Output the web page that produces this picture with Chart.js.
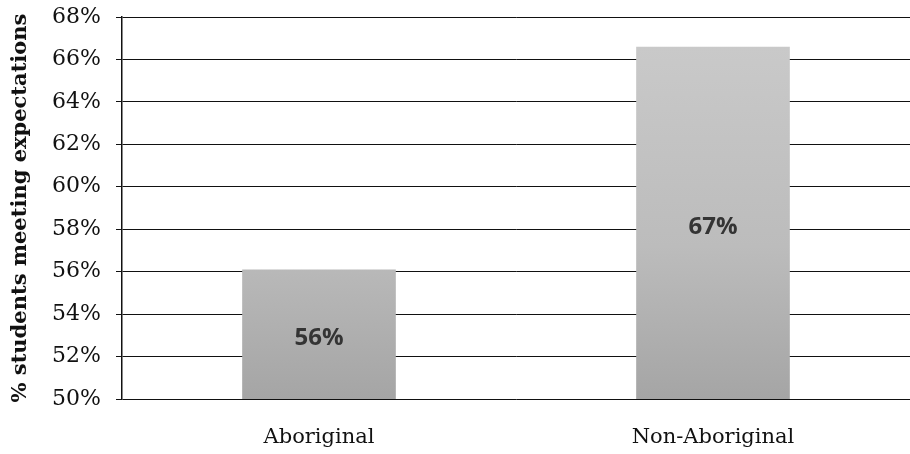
<!DOCTYPE html>
<html>
<head>
<meta charset="utf-8">
<script src="https://cdn.jsdelivr.net/npm/chart.js@4/dist/chart.umd.min.js"></script>
<style>
  html, body { margin: 0; padding: 0; background: #ffffff; }
  #wrap { width: 910px; height: 454px; position: relative; }
</style>
</head>
<body>
<div id="wrap"><canvas id="c" width="910" height="454"></canvas></div>
<script>
// Share of students meeting expectations, by group
const categories = ['Aboriginal', 'Non-Aboriginal'];
const percentMeeting = [56.1, 66.6];
const yTickMin = 50;
const yTickMax = 68;
const yTickStep = 2;
const yTitle = '% students meeting expectations';

// Gray bar fill, darker toward the base
function barFill(ctx) {
  const chart = ctx.chart;
  const area = chart.chartArea;
  if (!area) return '#bdbdbd';
  const g = chart.ctx.createLinearGradient(0, area.top, 0, area.bottom);
  g.addColorStop(0, '#cbcbcb');
  g.addColorStop(0.6, '#bcbcbc');
  g.addColorStop(1, '#a5a5a5');
  return g;
}

// Value labels centred on the visible part of each bar
const valueLabels = {
  id: 'valueLabels',
  afterDatasetsDraw(chart) {
    const ctx = chart.ctx;
    const area = chart.chartArea;
    const meta = chart.getDatasetMeta(0);
    const values = chart.data.datasets[0].data;
    ctx.save();
    ctx.font = 'bold 24px "Open Sans", "DejaVu Sans", sans-serif';
    ctx.fillStyle = '#343434';
    ctx.textAlign = 'center';
    ctx.textBaseline = 'middle';
    for (let i = 0; i < meta.data.length; i++) {
      const bar = meta.data[i];
      const base = Math.min(bar.base, area.bottom);
      const midY = (bar.y + base) / 2 + 4;
      ctx.fillText(Math.round(values[i]) + '%', bar.x, midY);
    }
    ctx.restore();
  }
};

new Chart(document.getElementById('c'), {
  type: 'bar',
  data: {
    labels: categories,
    datasets: [{
      data: percentMeeting,
      backgroundColor: barFill,
      borderWidth: 0,
      barPercentage: 0.78,
      categoryPercentage: 0.5
    }]
  },
  options: {
    responsive: false,
    animation: false,
    layout: { padding: { top: 0, right: 0, bottom: 0, left: 8 } },
    plugins: {
      legend: { display: false },
      tooltip: { enabled: false }
    },
    scales: {
      x: {
        afterFit(scale) { scale.height = 55; },
        grid: { display: false, drawTicks: false },
        border: { display: false },
        ticks: {
          color: '#111111',
          padding: 26,
          font: { family: '"DejaVu Serif", serif', size: 21 }
        }
      },
      y: {
        min: yTickMin,
        max: yTickMax,
        afterFit(scale) { scale.width = 114; scale.paddingTop = 17; },
        ticks: {
          stepSize: yTickStep,
          color: '#111111',
          padding: 15,
          font: { family: '"DejaVu Serif", serif', size: 22 },
          callback: (v) => v + '%'
        },
        grid: {
          color: '#111111',
          lineWidth: 1,
          tickLength: 6
        },
        border: { display: true, color: '#111111', width: 1.5 },
        title: {
          display: true,
          text: yTitle,
          color: '#111111',
          padding: { top: 0, bottom: 0 },
          font: { family: '"DejaVu Serif", serif', size: 21, weight: 'bold' }
        }
      }
    }
  },
  plugins: [valueLabels]
});
</script>
</body>
</html>
